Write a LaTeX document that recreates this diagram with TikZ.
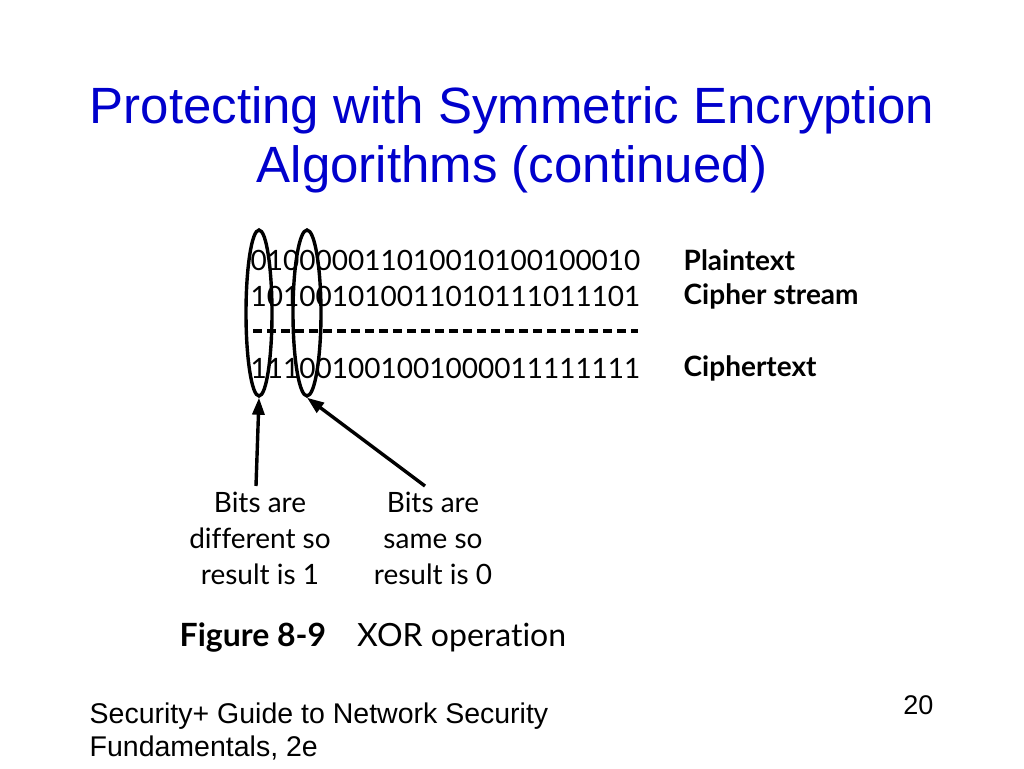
\documentclass[tikz,border=0pt]{standalone}
\usepackage{fontspec}
\setmainfont{Liberation Sans}
\newfontfamily\figfont[Ligatures={NoCommon,NoRare,NoContextual}]{Lato}
\usetikzlibrary{shapes,arrows.meta}
\definecolor{titleblue}{RGB}{0,0,204}
\tikzstyle{every picture}+=[x=1pt,y=-1pt]
\tikzstyle{every picture}+=[line width=3.4pt]
\tikzstyle{every picture}+=[>={Triangle[length=17pt,width=12pt]}]
\tikzstyle{bits}=[anchor=west,inner sep=0pt,font=\figfont\fontsize{28}{30}\selectfont]
\tikzstyle{rowlabel}=[anchor=west,inner sep=0pt,font=\figfont\bfseries\fontsize{28}{30}\selectfont]
\tikzstyle{callout}=[align=center,inner sep=0pt,font=\figfont\fontsize{28}{36}\selectfont]
\tikzstyle{ring}=[draw,ellipse,minimum width=26pt,minimum height=166pt,inner sep=0pt]

\begin{document}
\begin{tikzpicture}
\useasboundingbox[fill=white] (0,0) rectangle (1024,768);

% title
\node[text=titleblue,align=center,font=\fontsize{51}{59}\selectfont] (title) at (512,140)
  {Protecting with Symmetric Encryption\\Algorithms (continued)};

% XOR rows
\node[bits] (plain) at (249,260) {010000011010010100100010};
\node[bits] (stream) at (249,296) {101001010011010111011101};
\node[bits] (cipher) at (249,368) {111001001001000011111111};
\node[rowlabel] (lplain) at (682,260) {Plaintext};
\node[rowlabel] (lstream) at (682,296) {Cipher stream};
\node[rowlabel] (lcipher) at (682,368) {Ciphertext};
\coordinate (dashL) at (253,331);
\coordinate (dashR) at (638,331);
\draw[line width=3.2pt,dash pattern=on 9pt off 5pt] (dashL) -- (dashR);

\node[ring] (ringA) at (259,313) {};
\node[ring,minimum width=28pt] (ringB) at (307,313) {};

% callouts
\node[callout] (diff) at (260,538) {Bits are\\different so\\result is 1};
\node[callout] (same) at (433,538) {Bits are\\same so\\result is 0};
\coordinate (diffTop) at (256,486);
\coordinate (sameTop) at (425,486);
\draw[->] (diffTop) -- (ringA.south);
\draw[->] (sameTop) -- (ringB.south);

\node[anchor=west,inner sep=0pt,font=\figfont\fontsize{32}{34}\selectfont] (caption) at (178,638)
  {\textbf{Figure 8-9}\hspace{31pt}XOR operation};

% footer
\node[anchor=north west,align=left,inner sep=0pt,font=\fontsize{28.5}{33}\selectfont] (footer) at (88,701)
  {Security+ Guide to Network Security\\Fundamentals, 2e};
\node[anchor=north east,inner sep=0pt,font=\fontsize{27}{30}\selectfont] (page) at (935,694) {20};
\end{tikzpicture}
\end{document}
